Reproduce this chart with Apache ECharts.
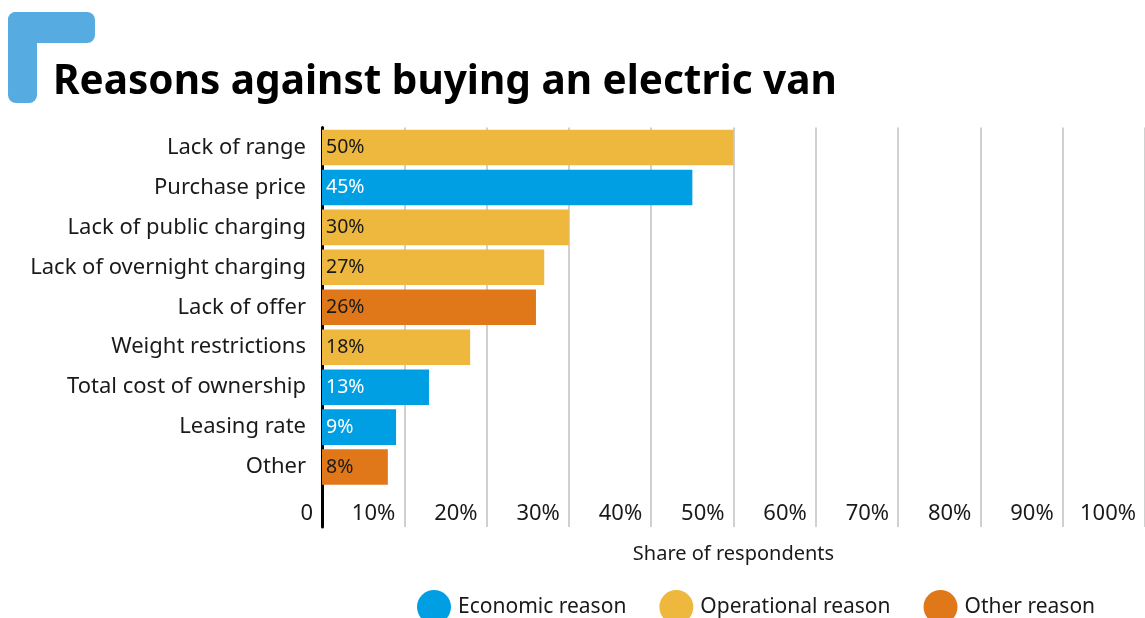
<!DOCTYPE html>
<html>
<head>
<meta charset="utf-8">
<script src="https://cdn.jsdelivr.net/npm/echarts@6/dist/echarts.min.js"></script>
<style>
html,body{margin:0;padding:0;background:#fff;}
#chart{width:1145px;height:618px;}
</style>
</head>
<body>
<div id="chart"></div>
<script>
var categories = ['Lack of range','Purchase price','Lack of public charging','Lack of overnight charging','Lack of offer','Weight restrictions','Total cost of ownership','Leasing rate','Other'];
var values = [50, 45, 30, 27, 26, 18, 13, 9, 8];
var reasonTypes = ['Operational reason','Economic reason','Operational reason','Operational reason','Other reason','Operational reason','Economic reason','Economic reason','Other reason'];
var seriesNames = ['Economic reason','Operational reason','Other reason'];
var seriesColors = ['#009FE3','#EDB83D','#E07819'];
var labelColors = ['#ffffff','#1a1a1a','#1a1a1a'];
var xTicks = [0,10,20,30,40,50,60,70,80,90,100];

var FONT = 'Noto Sans';
var yData = categories.concat(['']);

var series = seriesNames.map(function(name, si){
  return {
    name: name,
    type: 'bar',
    barGap: '-100%',
    barCategoryGap: '11%',
    itemStyle: {color: seriesColors[si]},
    label: {
      show: true,
      position: 'insideLeft',
      distance: 4,
      formatter: '{c}%',
      fontFamily: FONT,
      fontSize: 19.5,
      padding: [4, 0, 0, 0],
      color: labelColors[si]
    },
    data: values.map(function(v, i){ return reasonTypes[i] === name ? v : '-'; }).concat(['-'])
  };
});

var chart = echarts.init(document.getElementById('chart'));
chart.setOption({
  animation: false,
  textStyle: {fontFamily: FONT},
  title: {
    text: 'Reasons against buying an electric van',
    left: 48, top: 57,
    textStyle: {fontFamily: FONT, fontWeight: 'bold', fontSize: 40.5, color: '#000'}
  },
  graphic: [
    {type: 'rect', shape: {x: 8, y: 12, width: 29, height: 91, r: 8}, style: {fill: '#56ACE1'}},
    {type: 'rect', shape: {x: 8, y: 12, width: 87, height: 31, r: 8}, style: {fill: '#56ACE1'}}
  ],
  legend: {
    data: seriesNames,
    left: 412, top: 585,
    icon: 'circle',
    itemWidth: 34, itemHeight: 34,
    itemGap: 33,
    textStyle: {fontFamily: FONT, fontSize: 21, color: '#1a1a1a', padding: [0,0,0,2]}
  },
  grid: {left: 322, right: -3, top: 127.5, bottom: 91},
  xAxis: {
    type: 'value',
    min: 0, max: 100, interval: 10,
    name: 'Share of respondents',
    nameLocation: 'middle',
    nameGap: 17,
    nameTextStyle: {fontFamily: FONT, fontSize: 20, color: '#1a1a1a'},
    axisLine: {show: false},
    axisTick: {show: false},
    splitLine: {show: true, lineStyle: {color: '#d0d0d0', width: 2}},
    axisLabel: {
      inside: true,
      margin: 2,
      align: 'right',
      padding: [0, 9, 0, 0],
      fontFamily: FONT, fontSize: 22, color: '#1a1a1a',
      formatter: function(v){ return xTicks.indexOf(v) === 0 ? '0' : v + '%'; }
    }
  },
  yAxis: {
    type: 'category',
    inverse: true,
    data: yData,
    axisLine: {show: true, lineStyle: {color: '#000', width: 3}},
    axisTick: {show: false},
    axisLabel: {margin: 16, padding: [5, 0, 0, 0], fontFamily: FONT, fontSize: 22, color: '#1a1a1a'}
  },
  series: series
});
</script>
</body>
</html>
